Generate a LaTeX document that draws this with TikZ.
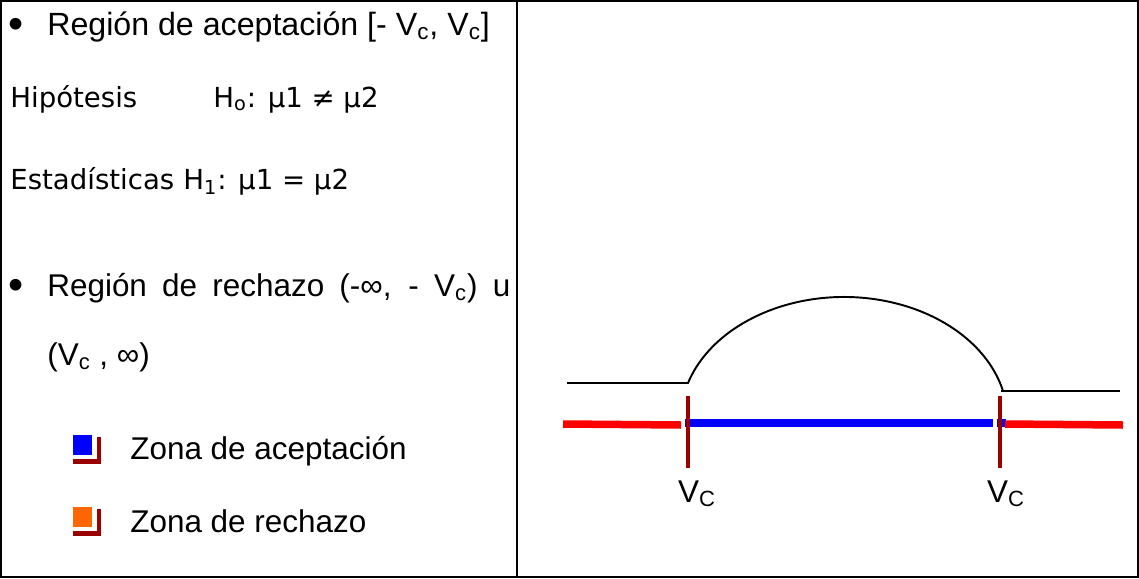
\documentclass[tikz,border=0pt]{standalone}
\usepackage{fontspec}
\setmainfont{Liberation Sans}
\newfontfamily\tahomalike{DejaVu Sans}
\usetikzlibrary{positioning}
\definecolor{zoneBlue}{HTML}{0000FF}
\definecolor{zoneRed}{HTML}{FF0000}
\definecolor{zoneOrange}{HTML}{FF6600}
\definecolor{tickRed}{HTML}{990000}

\begin{document}
\begin{tikzpicture}[
  x=0.02cm, y=-0.02cm,
  every node/.style={font=\fontsize{17.9}{21}\selectfont, inner sep=0pt},
  txt/.style={anchor=base west},
  hyptxt/.style={anchor=base west, font=\tahomalike\fontsize{15.7}{19}\selectfont},
  dot/.style={anchor=base west, font=\fontsize{24.5}{26}\selectfont},
  vclabel/.style={anchor=base, font=\fontsize{17.9}{21}\selectfont},
  frame/.style={draw=black, line width=1.1pt},
  curve/.style={draw=black, line width=1.1pt},
  zone/.style={line width=0.15cm},
  tick/.style={draw=tickRed, line width=0.07cm},
]
\useasboundingbox (0,0) rectangle (1139,578);

% === Table frame ===
\draw[frame] (1,1) rectangle (1138,577);
\draw[frame] (517,1) -- (517,577);

% === Left column text ===
\node[dot] (bulletA) at (8,38) {•};
\node[txt, font=\fontsize{18.3}{21}\selectfont] (acept) at (47,35)
  {Región de aceptación [- V\textsubscript{c}, V\textsubscript{c}]};
\node[hyptxt] (hipo) at (10,107) {Hipótesis};
\node[hyptxt] (hnull) at (213,107) {H\textsubscript{o}: µ1 ≠ µ2};
\node[hyptxt] (estad) at (10,189) {Estadísticas};
\node[hyptxt] (halt) at (183,189) {H\textsubscript{1}: µ1 = µ2};
\node[dot] (bulletB) at (8,299) {•};
\node[txt] (rech) at (47,296) {\hbox to 9.26cm{Región de rechazo (-∞, - V\textsubscript{c}) u}};
\node[txt] (rechB) at (47,365) {(V\textsubscript{c} , ∞)};

% === Legend ===
\fill[zoneBlue] (73,435) rectangle (92,455);
\fill[tickRed] (97,437) rectangle (101,464);
\fill[tickRed] (73,459) rectangle (101,464);
\node[txt] (leyA) at (130,459) {Zona de aceptación};
\fill[zoneOrange] (73,507) rectangle (92,527);
\fill[tickRed] (97,509) rectangle (101,536);
\fill[tickRed] (73,531) rectangle (101,536);
\node[txt] (leyB) at (130,532) {Zona de rechazo};

% === Curve ===
\coordinate (baseL) at (567,383);
\coordinate (archL) at (688,383);
\coordinate (archR) at (1001,391);
\coordinate (baseR) at (1120,391);
\draw[curve] (baseL) -- (archL)
  arc[start angle=-162.5, end angle=-14, x radius=163.6, y radius=123];
\draw[curve] (archR) -- (baseR);

% === Zones ===
\draw[zone, zoneRed] (563,424) -- (681,425);
\draw[zone, zoneBlue] (685,423) -- (993,423);
\draw[zone, zoneBlue] (997,423) -- (1006,423);
\draw[zone, zoneRed] (1005,424) -- (1123,425);

% === Critical values ===
\coordinate (vcL) at (688,396);
\coordinate (vcR) at (1000,396);
\draw[tick] (vcL) -- ++(0,72) coordinate (vcLend);
\draw[tick] (vcR) -- ++(0,72) coordinate (vcRend);
\node[vclabel] (vcLlab) at (697,502) {V\textsubscript{C}};
\node[vclabel] (vcRlab) at (1006,502) {V\textsubscript{C}};

\end{tikzpicture}
\end{document}
